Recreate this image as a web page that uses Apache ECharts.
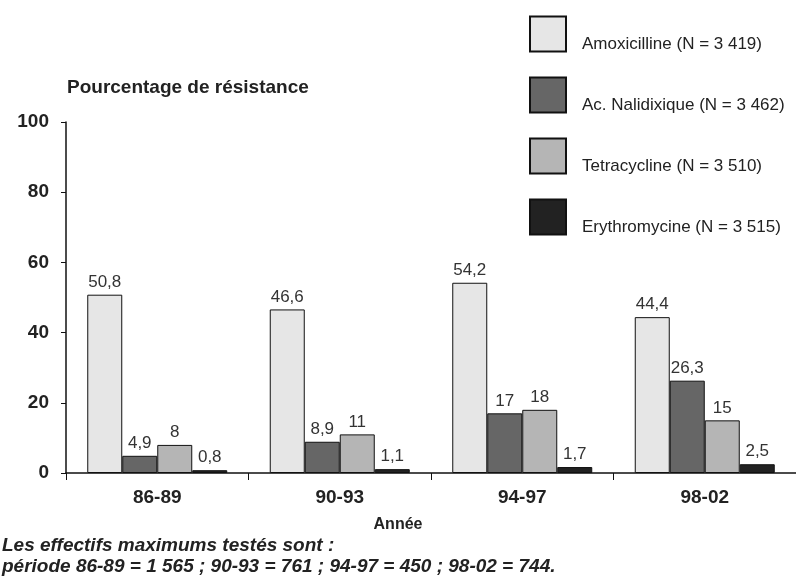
<!DOCTYPE html>
<html>
<head>
<meta charset="utf-8">
<script src="https://cdn.jsdelivr.net/npm/echarts@6/dist/echarts.min.js"></script>
<style>
  html, body { margin: 0; padding: 0; background: #fff; }
  #chart { width: 796px; height: 581px; }
</style>
</head>
<body>
<div id="chart"></div>
<script>
// Periods on the x axis
const periods = ['86-89', '90-93', '94-97', '98-02'];

// Resistance percentages per antibiotic
const amoxicilline = [50.8, 46.6, 54.2, 44.4];
const nalidixique  = [4.9, 8.9, 17, 26.3];
const tetracycline = [8, 11, 18, 15];
const erythromycine = [0.8, 1.1, 1.7, 2.5];

const seriesNames = [
  'Amoxicilline (N = 3 419)',
  'Ac. Nalidixique (N = 3 462)',
  'Tetracycline (N = 3 510)',
  'Erythromycine (N = 3 515)'
];
const seriesColors = ['#e6e6e6', '#666666', '#b5b5b5', '#222222'];
const seriesData = [amoxicilline, nalidixique, tetracycline, erythromycine];

const yTicks = { min: 0, max: 100, interval: 20 };

const footLines = [
  'Les effectifs maximums testés sont :',
  'période 86-89 = 1 565 ; 90-93 = 761 ; 94-97 = 450 ; 98-02 = 744.'
];

const FONT = '"Liberation Sans", Arial, sans-serif';
const TEXT = '#222';

const chart = echarts.init(document.getElementById('chart'), null, { renderer: 'canvas' });

const series = seriesNames.map((name, i) => ({
  name: name,
  type: 'bar',
  data: seriesData[i],
  barWidth: 35,
  barGap: '0%',
  itemStyle: { color: seriesColors[i], borderColor: '#111', borderWidth: 1 },
  label: {
    show: true,
    position: 'top',
    distance: 4,
    color: '#333',
    fontFamily: FONT,
    fontSize: 17,
    formatter: p => String(p.value).replace('.', ',')
  }
}));

chart.setOption({
  animation: false,
  backgroundColor: '#fff',
  grid: { left: 66, top: 122, bottom: 108, width: 742, containLabel: false },
  legend: {
    orient: 'vertical',
    left: 529,
    top: 13,
    padding: 0,
    icon: 'rect',
    itemWidth: 36,
    itemHeight: 35,
    itemGap: 19,
    data: seriesNames,
    // legend text sits near the bottom edge of each swatch
    formatter: name => '\n' + name,
    textStyle: {
      color: TEXT,
      fontFamily: FONT,
      fontSize: 17,
      lineHeight: 21,
      padding: [0, 0, 0, 11]
    }
  },
  xAxis: {
    type: 'category',
    data: periods,
    axisLine: { lineStyle: { color: '#111', width: 1.5 } },
    axisTick: { show: true, alignWithLabel: false, length: 7, lineStyle: { color: '#111' } },
    axisLabel: { color: TEXT, fontFamily: FONT, fontWeight: 'bold', fontSize: 19, margin: 15 },
    name: 'Année',
    nameLocation: 'middle',
    nameGap: 44,
    nameTextStyle: {
      color: TEXT, fontFamily: FONT, fontWeight: 'bold', fontSize: 16,
      padding: [0, 66, 0, 0]
    }
  },
  yAxis: {
    type: 'value',
    min: yTicks.min,
    max: yTicks.max,
    interval: yTicks.interval,
    splitLine: { show: false },
    axisLine: { show: true, lineStyle: { color: '#111', width: 1.5 } },
    axisTick: { show: true, length: 5, lineStyle: { color: '#111' } },
    axisLabel: { color: TEXT, fontFamily: FONT, fontWeight: 'bold', fontSize: 19, margin: 17 }
  },
  graphic: [
    {
      type: 'text', left: 67, top: 78,
      style: { text: 'Pourcentage de résistance', fill: TEXT, font: 'bold 19px ' + FONT }
    },
    {
      type: 'text', left: 2, top: 536,
      style: { text: footLines[0], fill: TEXT, font: 'italic bold 19px ' + FONT }
    },
    {
      type: 'text', left: 2, top: 557,
      style: { text: footLines[1], fill: TEXT, font: 'italic bold 19px ' + FONT }
    }
  ],
  series: series
});
</script>
</body>
</html>
